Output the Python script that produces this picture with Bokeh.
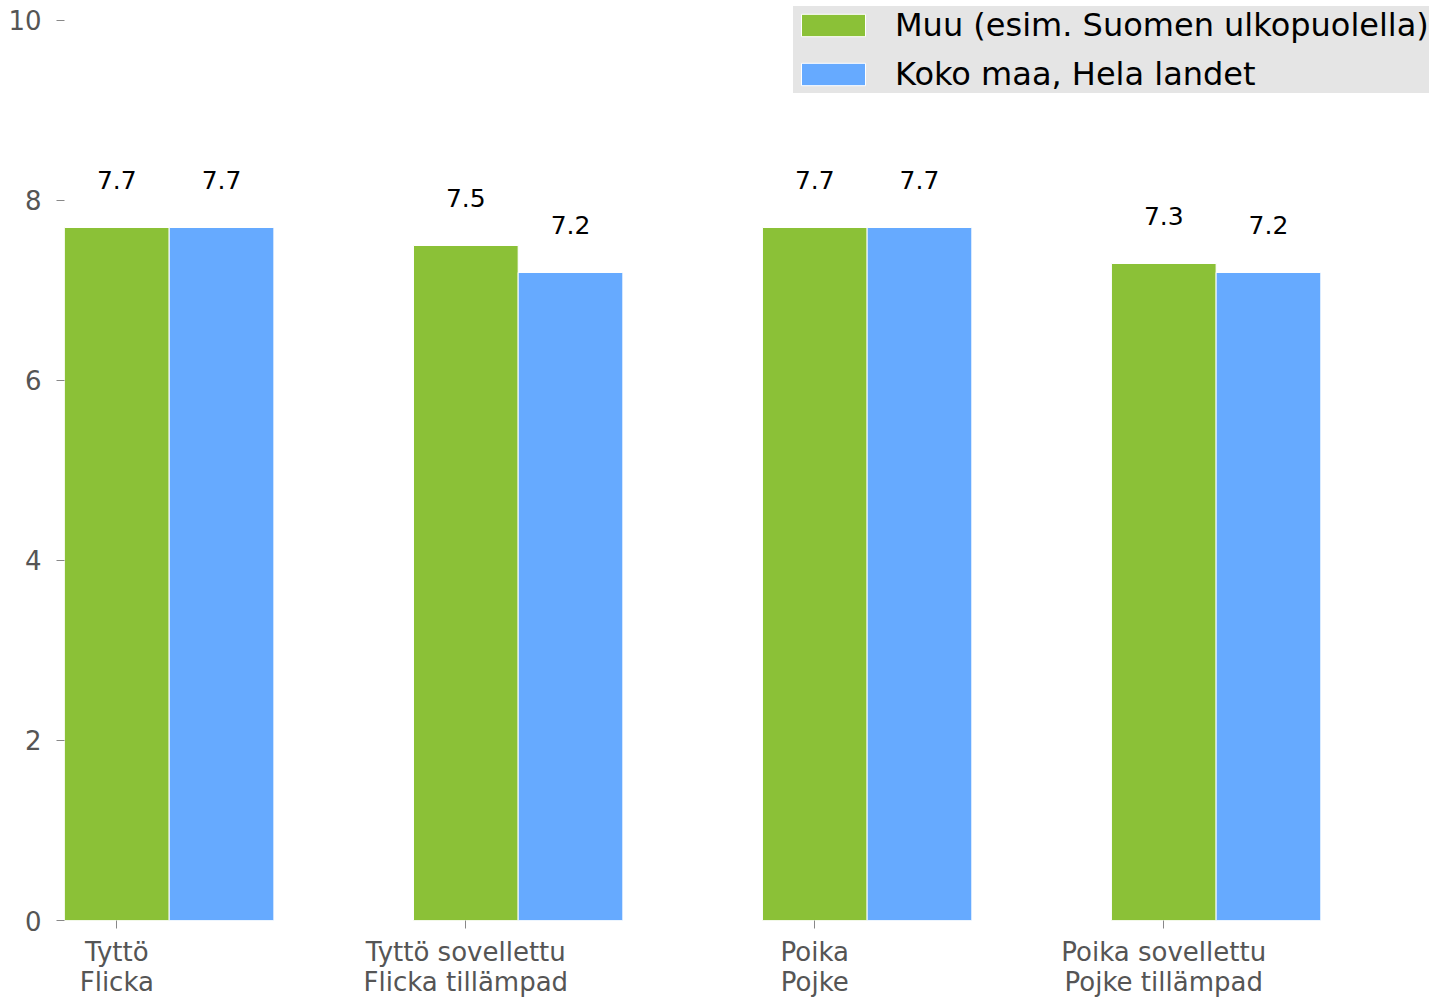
from bokeh.plotting import figure
from bokeh.models import ColumnDataSource, FixedTicker, Range1d, LinearAxis
from bokeh.core.properties import value
from bokeh.embed import file_html
from bokeh.resources import INLINE

categories_fi = ["Tyttö", "Tyttö sovellettu", "Poika", "Poika sovellettu"]
categories_sv = ["Flicka", "Flicka tillämpad", "Pojke", "Pojke tillämpad"]
series_names = ["Muu (esim. Suomen ulkopuolella)", "Koko maa, Hela landet"]
muu_values = [7.7, 7.5, 7.7, 7.3]
koko_values = [7.7, 7.2, 7.7, 7.2]
y_ticks = [0, 2, 4, 6, 8, 10]

GREEN = "#8bc137"
BLUE = "#66aaff"
FONT = "DejaVu Sans"
BAR_W = 0.3

idx = list(range(len(categories_fi)))
src_muu = ColumnDataSource(dict(x=[i for i in idx], top=muu_values,
                                label=[f"{v:.1f}" for v in muu_values]))
src_koko = ColumnDataSource(dict(x=[i + BAR_W for i in idx], top=koko_values,
                                 label=[f"{v:.1f}" for v in koko_values]))

p = figure(width=1440, height=999, output_backend="svg", toolbar_location=None,
           x_range=Range1d(-0.15, 3.793), y_range=Range1d(0, 10.222),
           min_border_left=64, min_border_right=0, min_border_top=0, min_border_bottom=0)
p.outline_line_color = None
p.xgrid.grid_line_color = None
p.ygrid.grid_line_color = None
p.background_fill_color = "white"

p.vbar(x="x", top="top", width=BAR_W, bottom=0, source=src_muu, fill_color=GREEN,
       line_color="white", line_width=1, legend_label=series_names[0])
p.vbar(x="x", top="top", width=BAR_W, bottom=0, source=src_koko, fill_color=BLUE,
       line_color="white", line_width=1, legend_label=series_names[1])

for src in (src_muu, src_koko):
    p.text(x="x", y="top", text="label", source=src, text_align="center",
           text_baseline="alphabetic", y_offset=-47, text_font=value(FONT),
           text_font_size="25px", text_color="black")

# y axis
p.yaxis.ticker = FixedTicker(ticks=y_ticks)
p.yaxis.axis_line_color = None
p.yaxis.major_tick_in = 0
p.yaxis.major_tick_out = 8
p.yaxis.minor_tick_line_color = None
p.yaxis.major_tick_line_color = "#888888"
p.yaxis.major_label_text_font = FONT
p.yaxis.major_label_text_font_size = "26px"
p.yaxis.major_label_text_color = "#555555"
p.yaxis.major_label_standoff = 15

# x axis: first line (Finnish)
xa = p.xaxis[0]
xa.ticker = FixedTicker(ticks=idx)
xa.major_label_overrides = {i: c for i, c in zip(idx, categories_fi)}
xa.axis_line_color = None
xa.major_tick_in = 0
xa.major_tick_out = 8
xa.minor_tick_line_color = None
xa.major_tick_line_color = "#888888"
xa.major_label_text_font = FONT
xa.major_label_text_font_size = "26px"
xa.major_label_text_color = "#555555"
xa.major_label_standoff = 8

# x axis: second line (Swedish)
xa2 = LinearAxis(ticker=FixedTicker(ticks=idx),
                 major_label_overrides={i: c for i, c in zip(idx, categories_sv)})
xa2.axis_line_color = None
xa2.major_tick_in = 0
xa2.major_tick_out = 0
xa2.major_tick_line_color = None
xa2.minor_tick_line_color = None
xa2.major_label_text_font = FONT
xa2.major_label_text_font_size = "26px"
xa2.major_label_text_color = "#555555"
xa2.major_label_standoff = -3
p.add_layout(xa2, "below")

lg = p.legend[0]
lg.location = (729, 827)
lg.background_fill_color = "#e5e5e5"
lg.background_fill_alpha = 1.0
lg.border_line_color = None
lg.label_text_font = FONT
lg.label_text_font_size = "32px"
lg.label_text_color = "black"
lg.glyph_width = 80
lg.glyph_height = 28
lg.label_height = 28
lg.label_standoff = 22
lg.spacing = 11
lg.padding = 14
lg.margin = 0

open("out.html", "w").write(file_html(p, INLINE))
